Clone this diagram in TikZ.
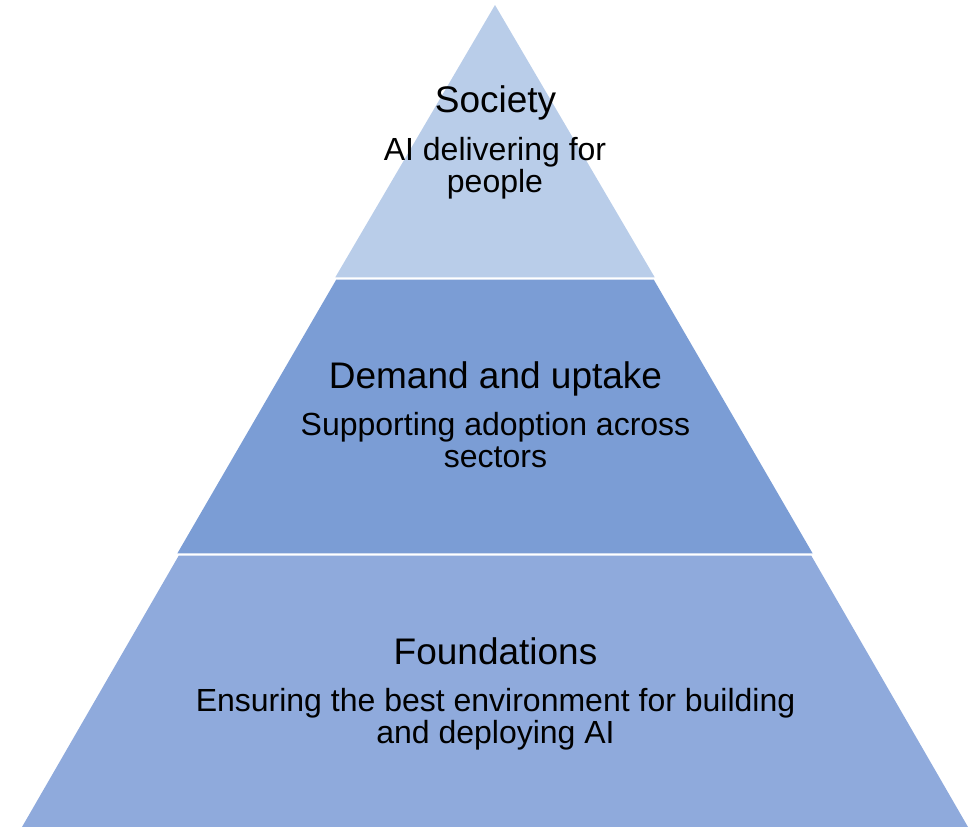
\documentclass[tikz,border=0pt]{standalone}
\usepackage{fontspec}
\setmainfont{Liberation Sans}
\definecolor{topband}{RGB}{185,205,233}
\definecolor{midband}{RGB}{123,157,213}
\definecolor{botband}{RGB}{143,170,220}
\begin{document}
\begin{tikzpicture}[x=1pt,y=-1pt,
  band/.style={draw=none},
  title/.style={anchor=base,inner sep=0pt,font=\fontsize{37}{40}\selectfont,text=black},
  body/.style={anchor=base,inner sep=0pt,font=\fontsize{32}{35}\selectfont,text=black}]
\useasboundingbox (0,0) rectangle (970,827);
% slope: half width = 0.57543*(y-5)
\fill[topband] (495,5) -- (654.7,277.3) -- (335.3,277.3) -- cycle;
\fill[midband] (336.2,279.7) -- (653.8,279.7) -- (812.6,553.3) -- (177.4,553.3) -- cycle;
\fill[botband] (178.7,555.7) -- (811.3,555.7) -- (968,827) -- (22,827) -- cycle;
% texts
\node[title] (t1) at (495.5,112.5) {Society};
\node[body] (b1a) at (495,160.5) {AI delivering for};
\node[body] (b1b) at (495,192.5) {people};
\node[title] (t2) at (495.5,388.5) {Demand and uptake};
\node[body] (b2a) at (495.5,435.5) {Supporting adoption across};
\node[body] (b2b) at (495.5,467.5) {sectors};
\node[title] (t3) at (495.5,664.5) {Foundations};
\node[body] (b3a) at (495.5,711.5) {Ensuring the best environment for building};
\node[body] (b3b) at (495.5,743.5) {and deploying AI};
\end{tikzpicture}
\end{document}
